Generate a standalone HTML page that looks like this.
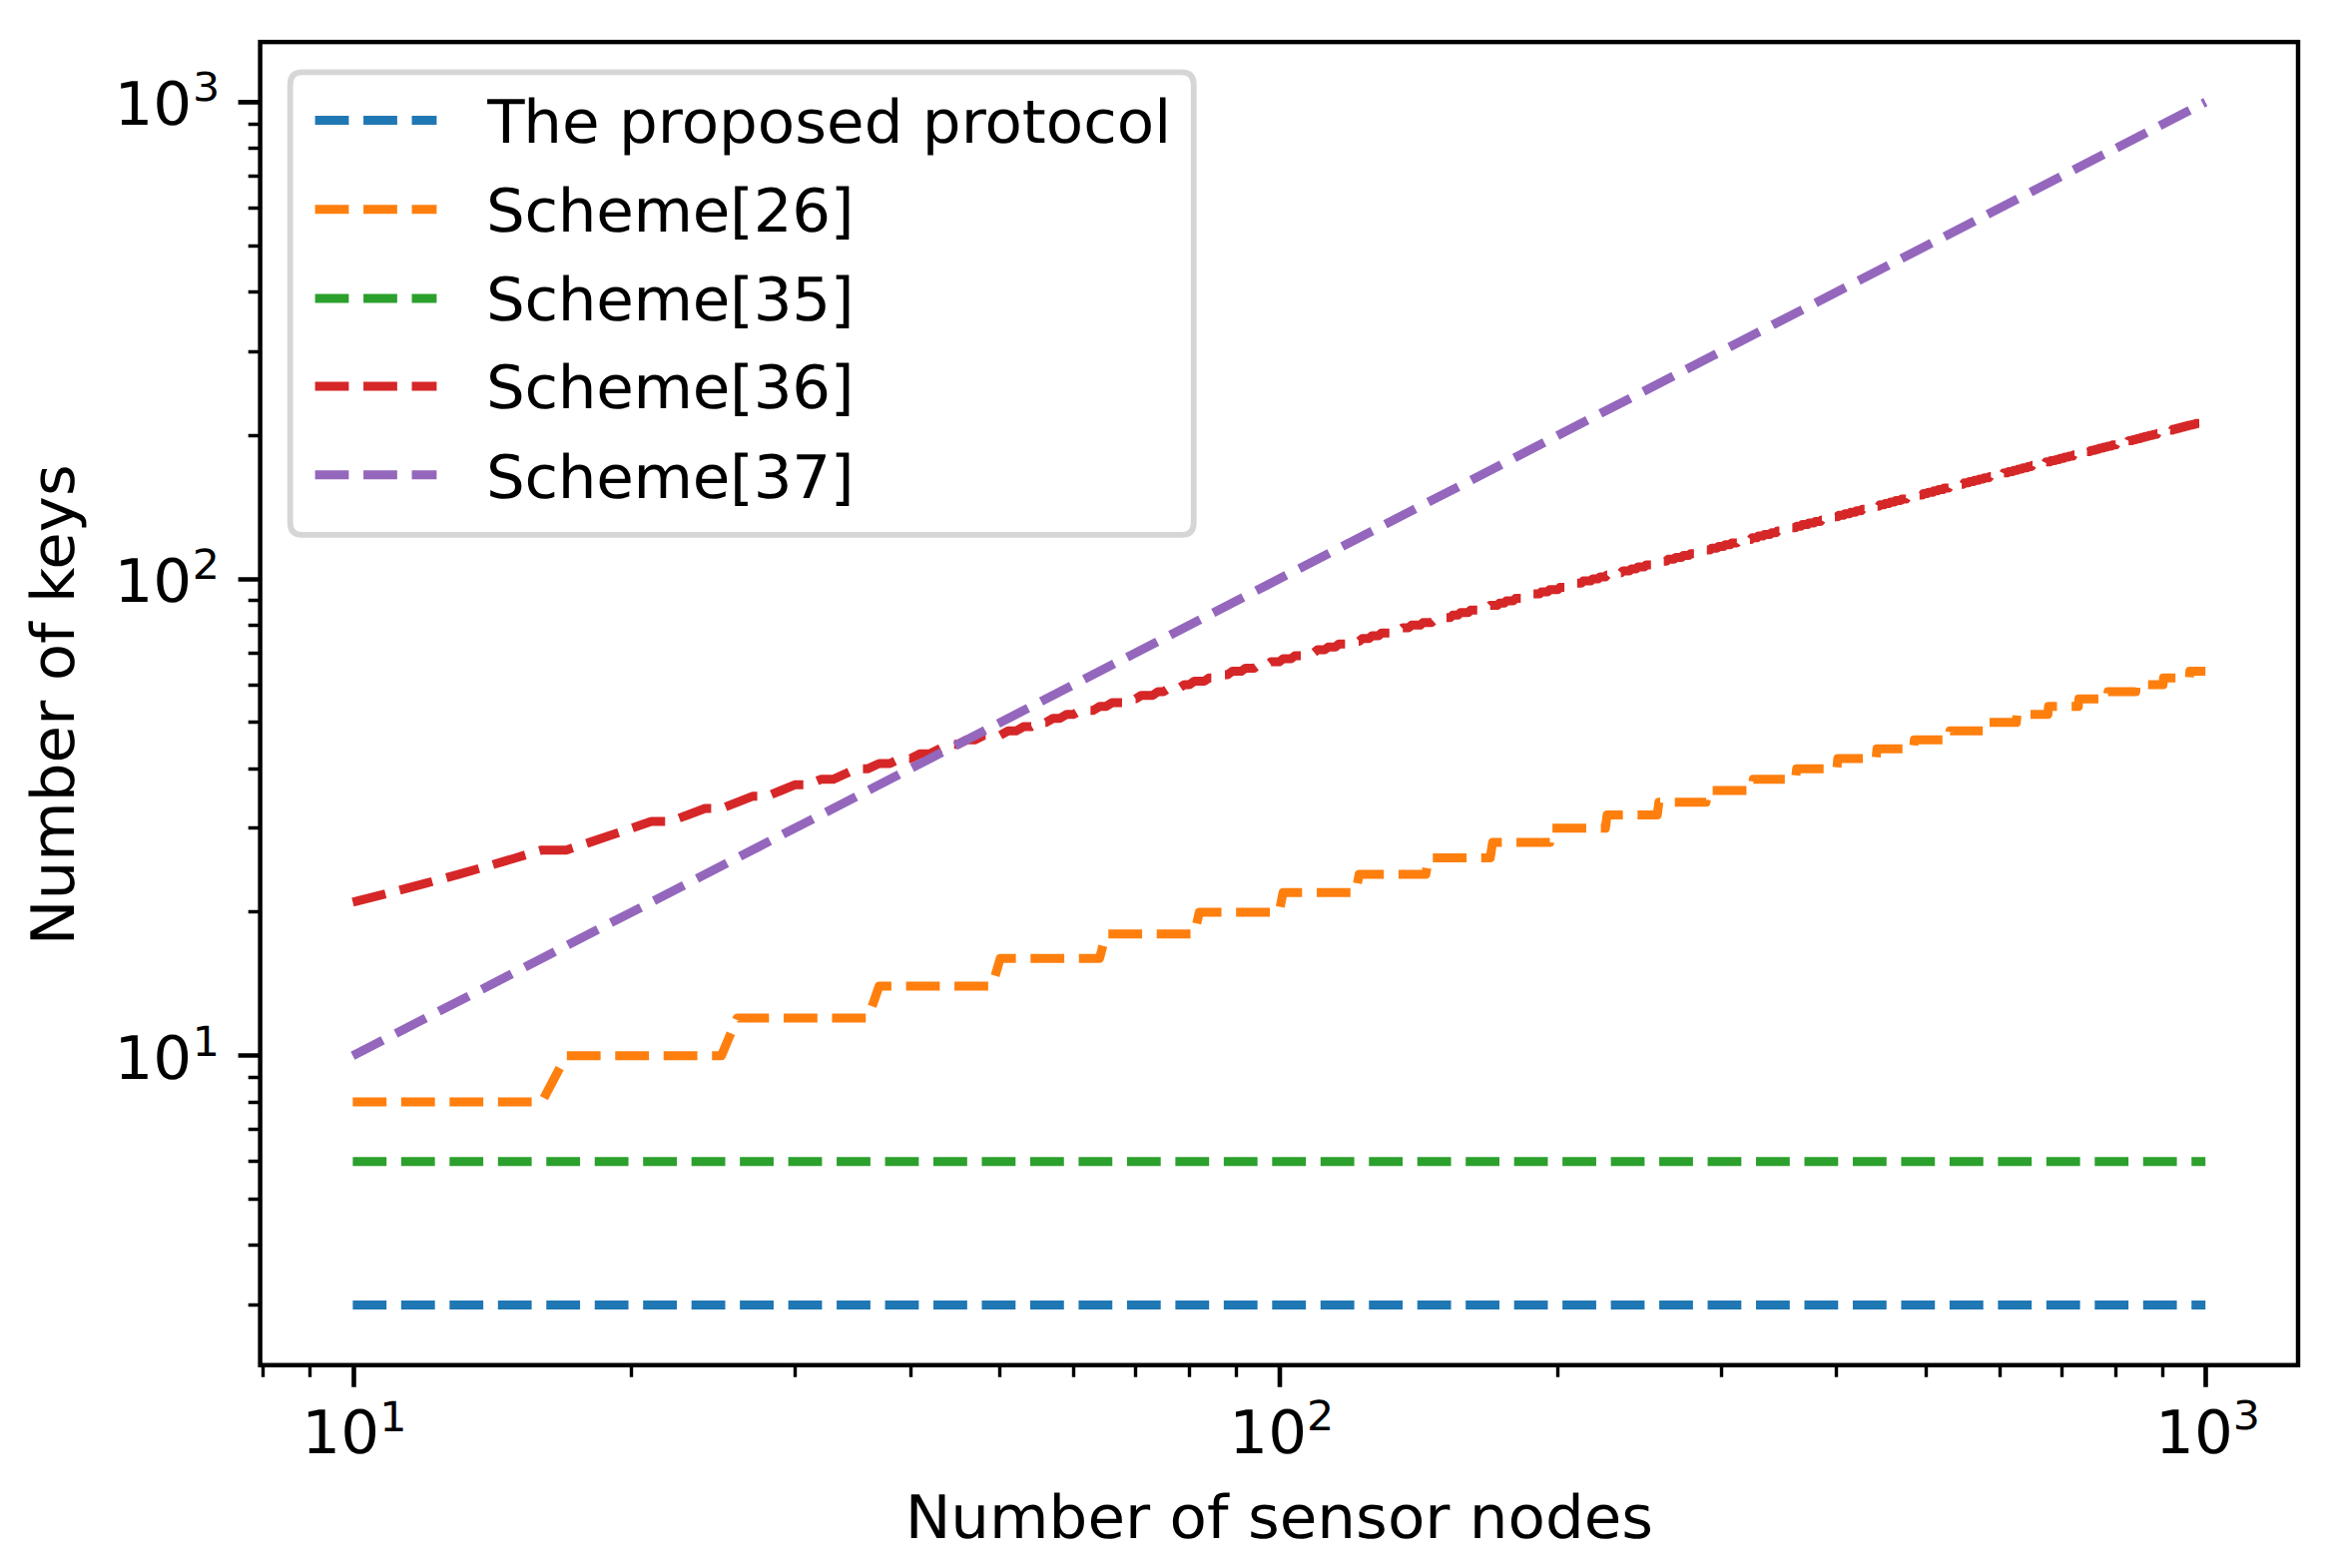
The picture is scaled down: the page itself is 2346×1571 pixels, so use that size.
<!DOCTYPE html>
<html lang="en"><head><meta charset="utf-8"><title>Number of keys vs number of sensor nodes</title>
<style>html,body{margin:0;padding:0;background:#fff;}svg{display:block;}text{font-family:"DejaVu Sans","Liberation Sans",sans-serif;fill:#000;text-rendering:geometricPrecision;}</style></head><body>
<svg width="2346" height="1571" viewBox="0 0 2346 1571">
<rect x="0" y="0" width="2346" height="1571" fill="#ffffff"/>
<g fill="none" stroke-width="9.0" stroke-dasharray="33.8 14.67" stroke-linejoin="round" stroke-linecap="butt">
<polyline stroke="#1f77b4" points="353.39,1307.49 2209.21,1307.49"/>
<polyline stroke="#ff7f0e" points="353.39,1104.02 542.80,1104.02 567.23,1057.72 722.64,1057.72 738.45,1019.90 869.59,1019.90 880.63,987.92 993.83,987.92 1001.97,960.22 1101.45,960.22 1107.70,935.78 1196.38,935.78 1201.33,913.93 1281.30,913.93 1285.31,894.15 1358.12,894.15 1361.43,876.10 1428.25,876.10 1431.03,859.50 1492.76,859.50 1495.14,844.12 1552.49,844.12 1554.54,829.81 1608.09,829.81 1609.88,816.42 1660.11,816.42 1661.68,803.84 1708.97,803.84 1710.36,791.99 1755.04,791.99 1756.28,780.77 1798.62,780.77 1799.73,770.13 1839.96,770.13 1840.96,760.01 1879.28,760.01 1880.19,750.36 1916.77,750.36 1917.61,741.13 1952.60,741.13 1953.36,732.31 1986.90,732.31 1987.60,723.84 2019.80,723.84 2020.45,715.70 2051.42,715.70 2052.01,707.87 2081.83,707.87 2082.39,700.33 2111.14,700.33 2111.66,693.05 2139.43,693.05 2139.91,686.01 2166.75,686.01 2167.20,679.21 2193.18,679.21 2193.60,672.62 2209.21,672.62"/>
<polyline stroke="#2ca02c" points="353.39,1163.70 2209.21,1163.70"/>
<polyline stroke="#d62728" points="353.39,903.80 391.80,894.15 426.86,884.93 459.12,876.10 488.98,867.63 516.79,859.50 542.80,851.67 567.23,851.67 590.26,844.12 612.05,836.84 632.72,829.81 652.38,823.01 671.13,823.01 689.04,816.42 706.19,810.04 722.64,810.04 738.45,803.84 753.66,797.83 768.31,797.83 782.45,791.99 796.12,786.30 809.33,786.30 822.12,780.77 834.52,780.77 846.56,775.38 858.24,770.13 869.59,770.13 880.63,765.01 891.38,765.01 901.85,760.01 912.05,760.01 922.00,755.13 931.71,755.13 941.19,750.36 950.46,745.69 959.51,745.69 968.37,741.13 977.04,741.13 985.52,736.67 1001.97,736.67 1009.95,732.31 1017.78,732.31 1025.45,728.03 1032.99,728.03 1040.38,723.84 1047.64,723.84 1054.77,719.73 1061.78,719.73 1068.67,715.70 1075.44,715.70 1082.11,711.75 1095.11,711.75 1101.45,707.87 1107.70,707.87 1113.85,704.06 1125.88,704.06 1131.77,700.33 1137.57,700.33 1143.28,696.65 1154.48,696.65 1159.96,693.05 1165.37,693.05 1170.71,689.50 1181.17,689.50 1186.31,686.01 1191.38,686.01 1196.38,682.58 1206.21,682.58 1211.04,679.21 1220.52,679.21 1225.18,675.89 1229.78,675.89 1234.34,672.62 1243.29,672.62 1247.70,669.41 1256.37,669.41 1260.63,666.24 1269.03,666.24 1273.16,663.12 1281.30,663.12 1285.31,660.05 1293.21,660.05 1297.11,657.02 1304.78,657.02 1308.57,654.03 1316.03,654.03 1319.71,651.09 1326.97,651.09 1330.55,648.19 1337.62,648.19 1341.11,645.33 1348.00,645.33 1351.40,642.51 1361.43,642.51 1364.72,639.72 1371.22,639.72 1374.43,636.97 1380.78,636.97 1383.92,634.26 1393.18,634.26 1396.22,631.58 1402.24,631.58 1405.21,628.94 1411.10,628.94 1414.00,626.33 1422.61,626.33 1425.44,623.76 1433.80,623.76 1436.56,621.21 1442.00,621.21 1444.70,618.69 1452.68,618.69 1455.30,616.21 1460.50,616.21 1463.08,613.76 1470.70,613.76 1473.22,611.33 1480.66,611.33 1483.11,608.93 1490.37,608.93 1492.76,606.56 1499.85,606.56 1502.19,604.22 1506.82,604.22 1509.11,601.90 1515.92,601.90 1518.17,599.61 1524.83,599.61 1527.03,597.34 1533.54,597.34 1535.69,595.10 1542.07,595.10 1544.18,592.88 1550.43,592.88 1552.49,590.68 1560.63,590.68 1562.64,588.51 1568.61,588.51 1570.58,586.36 1576.43,586.36 1578.37,584.23 1584.11,584.23 1586.01,582.12 1593.50,582.12 1595.36,580.04 1600.86,580.04 1602.68,577.98 1608.09,577.98 1609.88,575.93 1616.95,575.93 1618.70,573.91 1623.90,573.91 1625.62,571.90 1632.42,571.90 1634.10,569.92 1639.11,569.92 1640.76,567.95 1647.32,567.95 1648.94,566.00 1655.36,566.00 1656.95,564.07 1661.68,564.07 1663.25,562.16 1669.45,562.16 1670.98,560.27 1677.06,560.27 1678.57,558.39 1684.54,558.39 1686.02,556.53 1691.88,556.53 1693.33,554.69 1699.09,554.69 1700.52,552.86 1706.17,552.86 1707.57,551.05 1713.13,551.05 1714.51,549.25 1719.98,549.25 1721.33,547.47 1726.70,547.47 1728.03,545.70 1733.32,545.70 1734.63,543.95 1739.83,543.95 1741.12,542.22 1746.24,542.22 1747.51,540.49 1753.79,540.49 1755.04,538.79 1759.98,538.79 1761.21,537.09 1766.08,537.09 1767.29,535.41 1773.28,535.41 1774.46,533.75 1779.18,533.75 1780.35,532.09 1786.15,532.09 1787.30,530.45 1791.86,530.45 1793.00,528.83 1798.62,528.83 1799.73,527.21 1804.16,527.21 1805.26,525.61 1810.71,525.61 1811.79,524.02 1817.16,524.02 1818.22,522.44 1823.51,522.44 1824.55,520.88 1828.72,520.88 1829.75,519.32 1834.89,519.32 1835.91,517.78 1840.96,517.78 1841.97,516.25 1846.95,516.25 1847.94,514.73 1852.85,514.73 1853.82,513.22 1858.66,513.22 1859.62,511.72 1864.39,511.72 1865.33,510.24 1870.04,510.24 1870.97,508.76 1875.61,508.76 1876.53,507.29 1882.01,507.29 1882.92,505.84 1887.42,505.84 1888.32,504.39 1892.76,504.39 1893.64,502.96 1898.03,502.96 1898.90,501.53 1904.09,501.53 1904.95,500.12 1909.21,500.12 1910.06,498.71 1915.11,498.71 1915.94,497.31 1920.09,497.31 1920.92,495.92 1925.83,495.92 1926.64,494.55 1930.69,494.55 1931.49,493.18 1936.28,493.18 1937.07,491.82 1941.01,491.82 1941.79,490.46 1946.46,490.46 1947.23,489.12 1951.84,489.12 1952.60,487.79 1957.15,487.79 1957.90,486.46 1962.38,486.46 1963.13,485.14 1966.82,485.14 1967.56,483.84 1971.94,483.84 1972.66,482.54 1976.99,482.54 1977.70,481.24 1981.98,481.24 1982.68,479.96 1986.90,479.96 1987.60,478.68 1992.46,478.68 1993.15,477.41 1997.26,477.41 1997.94,476.15 2002.01,476.15 2002.68,474.90 2006.70,474.90 2007.36,473.65 2011.33,473.65 2011.99,472.41 2016.57,472.41 2017.22,471.18 2021.09,471.18 2021.73,469.96 2025.57,469.96 2026.20,468.74 2030.62,468.74 2031.25,467.53 2034.99,467.53 2035.61,466.33 2039.93,466.33 2040.54,465.13 2044.80,465.13 2045.41,463.94 2049.02,463.94 2049.62,462.76 2053.79,462.76 2054.38,461.59 2058.51,461.59 2059.09,460.42 2062.59,460.42 2063.16,459.26 2067.20,459.26 2067.77,458.10 2071.76,458.10 2072.32,456.95 2076.27,456.95 2076.83,455.81 2080.73,455.81 2081.28,454.67 2085.14,454.67 2085.68,453.54 2089.50,453.54 2090.04,452.42 2093.81,452.42 2094.35,451.30 2098.08,451.30 2098.61,450.19 2102.31,450.19 2102.83,449.08 2106.49,449.08 2107.01,447.98 2110.63,447.98 2111.14,446.88 2115.24,446.88 2115.74,445.79 2119.29,445.79 2119.79,444.71 2123.30,444.71 2123.79,443.63 2127.76,443.63 2128.25,442.56 2131.69,442.56 2132.17,441.50 2136.06,441.50 2136.54,440.43 2139.91,440.43 2140.38,439.38 2144.19,439.38 2144.66,438.33 2147.96,438.33 2148.43,437.28 2152.16,437.28 2152.62,436.24 2156.32,436.24 2156.78,435.21 2160.43,435.21 2160.89,434.18 2164.05,434.18 2164.51,433.15 2168.09,433.15 2168.54,432.13 2172.09,432.13 2172.53,431.12 2176.05,431.12 2176.48,430.11 2179.96,430.11 2180.40,429.11 2183.85,429.11 2184.27,428.11 2187.69,428.11 2188.11,427.11 2191.50,427.11 2191.92,426.12 2195.27,426.12 2195.69,425.14 2199.01,425.14 2199.42,424.15 2203.12,424.15 2203.53,423.18 2206.78,423.18 2207.19,422.21 2209.21,422.21"/>
<polyline stroke="#9467bd" points="353.39,1057.72 2209.21,102.36"/>
</g>
<g stroke="#000" fill="none">
<path stroke-width="4.6" d="M354.50 1367.75v22.0 M260.60 1057.50h-22.0 M1282.00 1367.75v22.0 M260.60 580.50h-22.0 M2209.50 1367.75v22.0 M260.60 102.40h-22.0"/>
<path stroke-width="3.4" d="M260.60 1307.50h-11.9 M260.60 1247.50h-11.9 M260.60 1201.50h-11.9 M260.60 1163.50h-11.9 M260.60 1131.50h-11.9 M263.50 1367.75v11.9 M260.60 1104.50h-11.9 M310.50 1367.75v11.9 M260.60 1079.50h-11.9 M632.50 1367.75v11.9 M260.60 913.50h-11.9 M796.50 1367.75v11.9 M260.60 829.50h-11.9 M912.50 1367.75v11.9 M260.60 770.50h-11.9 M1001.50 1367.75v11.9 M260.60 723.50h-11.9 M1075.50 1367.75v11.9 M260.60 686.50h-11.9 M1137.50 1367.75v11.9 M260.60 654.50h-11.9 M1191.50 1367.75v11.9 M260.60 626.50h-11.9 M1238.50 1367.75v11.9 M260.60 601.50h-11.9 M1560.50 1367.75v11.9 M260.60 436.50h-11.9 M1724.50 1367.75v11.9 M260.60 352.50h-11.9 M1839.50 1367.75v11.9 M260.60 292.50h-11.9 M1929.50 1367.75v11.9 M260.60 246.50h-11.9 M2003.50 1367.75v11.9 M260.60 208.50h-11.9 M2065.50 1367.75v11.9 M260.60 176.50h-11.9 M2119.50 1367.75v11.9 M260.60 148.50h-11.9 M2166.50 1367.75v11.9 M260.60 124.50h-11.9"/>
<rect x="260.60" y="42.10" width="2041.40" height="1325.65" stroke-width="4.45" stroke-linejoin="miter"/>
</g>
<text font-size="61.11" transform="translate(302.30 1455.70) scale(1 0.98)">10</text><text font-size="42.78" transform="translate(380.35 1433.70) scale(1 0.97)">1</text>
<text font-size="61.11" transform="translate(1231.35 1455.70) scale(1 0.98)">10</text><text font-size="42.78" transform="translate(1308.95 1433.10) scale(1 0.97)">2</text>
<text font-size="61.11" transform="translate(2159.10 1455.70) scale(1 0.98)">10</text><text font-size="42.78" transform="translate(2236.75 1432.00) scale(1 0.93)">3</text>
<text font-size="61.11" transform="translate(114.40 1080.50) scale(1 0.98)">10</text><text font-size="42.78" transform="translate(192.75 1058.10) scale(1 0.97)">1</text>
<text font-size="61.11" transform="translate(114.40 602.90) scale(1 0.98)">10</text><text font-size="42.78" transform="translate(192.75 580.10) scale(1 0.97)">2</text>
<text font-size="61.11" transform="translate(114.40 124.65) scale(1 0.98)">10</text><text font-size="42.78" transform="translate(193.05 100.75) scale(1 0.93)">3</text>
<text font-size="61.11" text-anchor="middle" transform="translate(1281.40 1541.00) scale(1 0.98)">Number of sensor nodes</text>
<text font-size="61.11" text-anchor="middle" transform="translate(74.40 706.20) rotate(-90) scale(1 0.98)">Number of keys</text>
<path d="M302.90 72.40H1183.55Q1195.75 72.40 1195.75 84.60V523.75Q1195.75 535.95 1183.55 535.95H302.90Q290.70 535.95 290.70 523.75V84.60Q290.70 72.40 302.90 72.40Z" fill="#ffffff" fill-opacity="0.8" stroke="#cccccc" stroke-opacity="0.8" stroke-width="5.8"/>
<line x1="315.6" y1="120.45" x2="437.4" y2="120.45" stroke="#1f77b4" stroke-width="9.0" stroke-dasharray="33.8 14.67"/>
<text font-size="61.11" dx="1.2 -1.2" transform="translate(487.00 142.60) scale(1 0.98)">The proposed protocol</text>
<line x1="315.6" y1="209.8" x2="437.4" y2="209.8" stroke="#ff7f0e" stroke-width="9.0" stroke-dasharray="33.8 14.67"/>
<text font-size="61.11" letter-spacing="-0.29" transform="translate(487.00 231.60) scale(1 0.98)">Scheme[26]</text>
<line x1="315.6" y1="298.9" x2="437.4" y2="298.9" stroke="#2ca02c" stroke-width="9.0" stroke-dasharray="33.8 14.67"/>
<text font-size="61.11" letter-spacing="-0.29" transform="translate(487.00 321.40) scale(1 0.98)">Scheme[35]</text>
<line x1="315.6" y1="386.9" x2="437.4" y2="386.9" stroke="#d62728" stroke-width="9.0" stroke-dasharray="33.8 14.67"/>
<text font-size="61.11" letter-spacing="-0.29" transform="translate(487.00 409.20) scale(1 0.98)">Scheme[36]</text>
<line x1="315.6" y1="475.7" x2="437.4" y2="475.7" stroke="#9467bd" stroke-width="9.0" stroke-dasharray="33.8 14.67"/>
<text font-size="61.11" letter-spacing="-0.29" transform="translate(487.00 498.80) scale(1 0.98)">Scheme[37]</text>
</svg></body></html>
